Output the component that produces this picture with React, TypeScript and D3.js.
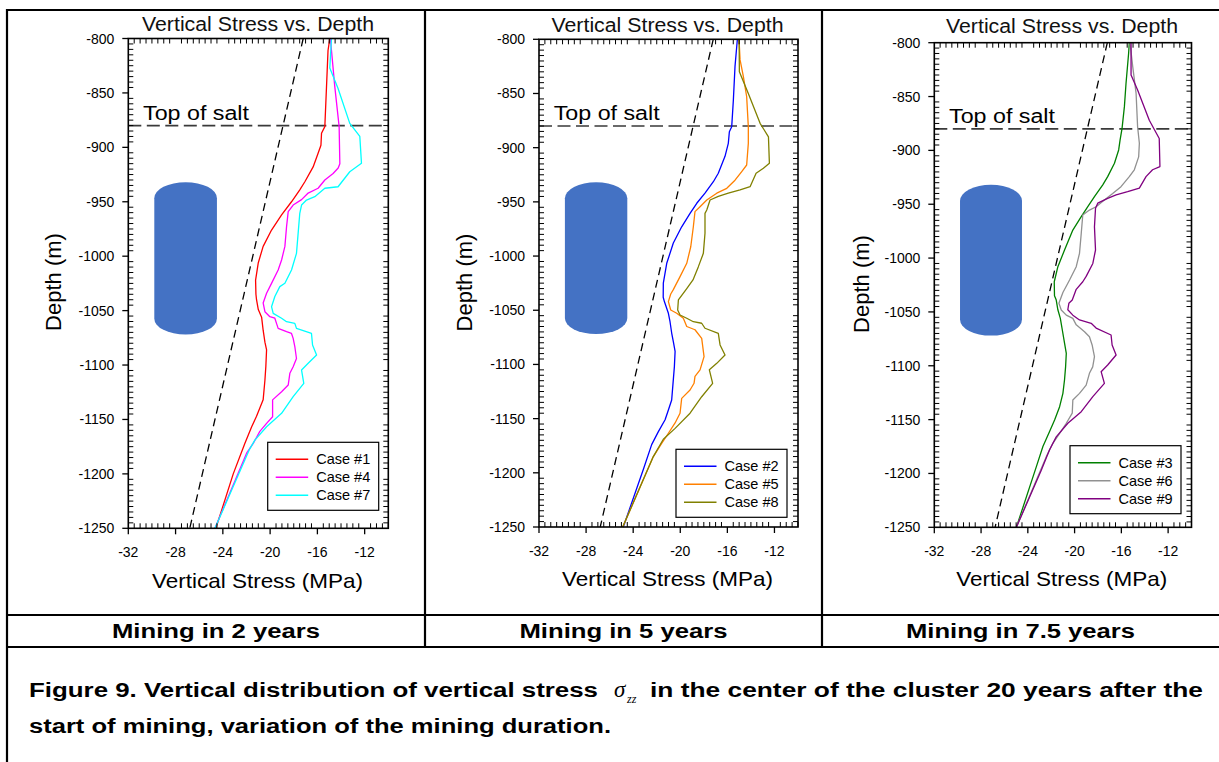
import React from "react";
import * as d3 from "d3";

type Pt = [number, number]; // [stress (MPa), depth (m)]

// ---- axes ----
const stressDomain: [number, number] = [-32, -10];
const depthDomain: [number, number] = [-800, -1250];
const stressTicks = [-32, -28, -24, -20, -16, -12];
const depthTicks = [-800, -850, -900, -950, -1000, -1050, -1100, -1150, -1200, -1250];
const saltTopDepth = -880;

// lithostatic reference (dashed black)
const lithoLine: Pt[] = [[-17.2, -800], [-26.8, -1250]];

// cavern sketch extents
const cavernStress: [number, number] = [-29.8, -24.5];
const cavernDepth: [number, number] = [-932, -1072];

const panelNames = ["Mining in 2 years", "Mining in 5 years", "Mining in 7.5 years"];
const legendNames = [
  ["Case #1", "Case #4", "Case #7"],
  ["Case #2", "Case #5", "Case #8"],
  ["Case #3", "Case #6", "Case #9"],
];
const seriesColors = [
  ["#FF0000", "#FF00FF", "#00FFFF"],
  ["#0000FF", "#FF8000", "#808000"],
  ["#008000", "#919191", "#800080"],
];

// ---- series ----
const case1: Pt[] = [[-14.95,-800],[-15.1,-811],[-15.37,-881],[-15.65,-887],[-15.7,-898],[-15.94,-905.5],[-16.36,-918],[-17.06,-931.6],[-17.49,-939],[-18.19,-950],[-19.03,-962],[-19.88,-976],[-20.59,-991],[-21.0,-1006],[-21.23,-1022],[-21.2,-1035],[-21.15,-1040],[-21.0,-1049],[-20.72,-1056],[-20.59,-1068],[-20.44,-1079],[-20.3,-1086],[-20.36,-1101],[-20.44,-1114],[-20.59,-1132],[-21.15,-1147],[-21.57,-1157],[-22.14,-1172],[-23.12,-1200],[-24.59,-1250]];
const case4: Pt[] = [[-14.9,-800],[-14.53,-844],[-14.16,-881],[-14.1,-915],[-14.24,-919],[-14.67,-924],[-15.37,-930],[-15.94,-937.6],[-16.78,-942],[-17.34,-948],[-18.05,-953],[-18.47,-959],[-18.61,-973],[-18.75,-991],[-19.03,-1003.5],[-19.32,-1012.7],[-19.88,-1025],[-20.3,-1034],[-20.59,-1043],[-20.44,-1051],[-20.02,-1055.6],[-19.6,-1057],[-19.46,-1061.7],[-19.32,-1066.3],[-18.61,-1069.4],[-18.19,-1071],[-18.05,-1075.5],[-17.91,-1083],[-17.77,-1094],[-18.05,-1101.5],[-18.33,-1107.6],[-18.47,-1118.4],[-19.03,-1124.5],[-19.79,-1132],[-19.79,-1147.5],[-20.3,-1153.6],[-20.87,-1161],[-21.43,-1172],[-21.99,-1181],[-24.67,-1250]];
const case7: Pt[] = [[-14.81,-800],[-14.95,-827],[-14.25,-846],[-13.26,-878],[-12.41,-890],[-12.27,-914.7],[-13.26,-922.4],[-14.25,-936.2],[-15.37,-937.6],[-16.22,-945.3],[-16.92,-948.4],[-17.34,-953],[-17.49,-960.6],[-17.63,-979],[-17.77,-997.4],[-18.19,-1012.7],[-18.75,-1024.9],[-19.18,-1028],[-19.6,-1037],[-19.88,-1046.4],[-19.74,-1052.5],[-19.03,-1057],[-18.61,-1060.2],[-17.91,-1061.7],[-17.77,-1066.3],[-16.5,-1071],[-16.41,-1081.6],[-16.07,-1090.8],[-16.78,-1098.4],[-17.34,-1104.6],[-17.15,-1116.8],[-18.05,-1129],[-19.03,-1144.4],[-20.3,-1156.7],[-21.29,-1169],[-21.77,-1178],[-24.67,-1250]];

const case2: Pt[] = [[-15.15,-800],[-15.35,-825],[-15.49,-856],[-15.63,-880.6],[-15.83,-885.3],[-15.92,-896],[-16.2,-908],[-16.77,-923.6],[-17.19,-931.4],[-17.9,-942],[-18.6,-951.3],[-19.17,-960.6],[-19.88,-973],[-20.59,-988],[-21.15,-1006.7],[-21.44,-1025],[-21.45,-1038],[-21.35,-1042],[-21.01,-1052.8],[-20.87,-1060.6],[-20.73,-1071],[-20.59,-1079],[-20.44,-1088],[-20.5,-1102],[-20.59,-1114],[-20.73,-1132.8],[-21.01,-1142],[-21.29,-1151],[-21.86,-1162],[-22.43,-1174],[-23.14,-1197],[-24.84,-1250]];
const case5: Pt[] = [[-15.01,-800],[-14.92,-819],[-14.64,-834.5],[-14.36,-853],[-14.22,-880.6],[-14.22,-896],[-14.36,-916],[-14.78,-922],[-15.35,-930],[-16.05,-937.5],[-16.9,-942],[-17.75,-948.3],[-18.32,-954.5],[-18.75,-959],[-18.89,-973],[-19.11,-991.4],[-19.45,-1006.7],[-20.02,-1019],[-20.59,-1031],[-20.81,-1035],[-21.01,-1042],[-20.81,-1049.8],[-20.3,-1052.8],[-19.74,-1057.4],[-19.45,-1065],[-18.75,-1068],[-18.18,-1076],[-18.09,-1083.6],[-17.98,-1092.8],[-18.32,-1105],[-18.75,-1111],[-18.83,-1117.4],[-19.17,-1123.6],[-19.88,-1131.3],[-20.02,-1145],[-20.44,-1154],[-21.01,-1163.5],[-21.58,-1172.8],[-22.29,-1185],[-24.89,-1250]];
const case8: Pt[] = [[-15.0,-800],[-14.98,-830],[-14.22,-850],[-13.22,-877.5],[-12.51,-890],[-12.43,-914.4],[-12.94,-919],[-13.56,-923.6],[-14.07,-936],[-14.92,-939],[-15.92,-942],[-16.77,-945],[-17.47,-948.3],[-17.75,-957.5],[-17.9,-960.6],[-17.9,-979],[-18.04,-997.5],[-18.47,-1010],[-18.92,-1022],[-19.45,-1030],[-20.16,-1040.5],[-20.22,-1049.8],[-20.02,-1054.4],[-19.45,-1057.4],[-18.89,-1060.6],[-18.18,-1062],[-17.9,-1066.6],[-16.77,-1071.3],[-16.62,-1082],[-16.2,-1091.3],[-16.9,-1099],[-17.53,-1105],[-17.25,-1117.4],[-18.18,-1129.8],[-19.17,-1145],[-20.44,-1159],[-21.44,-1169],[-22.29,-1185],[-24.89,-1250]];

const case3: Pt[] = [[-15.32,-800],[-15.38,-810],[-15.6,-837.7],[-15.74,-859.4],[-15.94,-879.5],[-16.11,-890.4],[-16.23,-899.6],[-16.59,-912],[-17.17,-924.4],[-17.59,-932],[-18.3,-943],[-18.87,-952.3],[-19.43,-961.6],[-20.15,-974],[-20.86,-992.5],[-21.43,-1008],[-21.74,-1022],[-21.72,-1035],[-21.57,-1039],[-21.43,-1048],[-21.22,-1056],[-21.05,-1066.8],[-20.86,-1079],[-20.71,-1088.4],[-20.77,-1101],[-20.86,-1113],[-21.0,-1125.6],[-21.28,-1138],[-21.71,-1150.4],[-22.14,-1161],[-22.71,-1175],[-23.27,-1193.7],[-24.98,-1250]];
const case6: Pt[] = [[-15.26,-800],[-15.03,-822],[-14.74,-847],[-14.61,-878],[-14.46,-893.4],[-14.52,-906],[-14.89,-918],[-15.32,-924.4],[-16.03,-933.7],[-16.74,-940],[-17.45,-946],[-18.16,-952.3],[-18.73,-955.4],[-19.3,-960],[-19.43,-977],[-19.58,-995.6],[-19.86,-1008],[-20.43,-1020.4],[-21.0,-1032],[-21.34,-1042],[-21.14,-1048.2],[-20.71,-1053],[-20.15,-1056],[-19.86,-1062],[-19.15,-1068.4],[-18.73,-1073],[-18.5,-1080.7],[-18.3,-1091.6],[-18.45,-1101],[-18.73,-1107],[-19.01,-1118],[-19.58,-1125.6],[-20.15,-1131.8],[-20.2,-1144],[-20.71,-1153.4],[-21.28,-1162.7],[-21.86,-1172],[-22.42,-1184.4],[-24.98,-1250]];
const case9: Pt[] = [[-15.17,-800],[-15.17,-830],[-14.61,-844],[-13.61,-872],[-12.76,-889],[-12.7,-915],[-13.33,-918],[-13.89,-924.4],[-14.46,-935],[-15.46,-938.4],[-16.45,-941.4],[-17.17,-944.5],[-18.02,-949],[-18.21,-953.8],[-18.3,-971],[-18.21,-992.5],[-18.44,-1005],[-19.01,-1017],[-19.3,-1022],[-19.86,-1029],[-20.2,-1039],[-20.49,-1042],[-20.58,-1048],[-20.15,-1053],[-19.58,-1057.5],[-18.58,-1060.6],[-18.16,-1065],[-16.88,-1071.4],[-16.79,-1080.7],[-16.45,-1090],[-17.17,-1099.3],[-17.73,-1105.5],[-17.45,-1116.3],[-18.44,-1128.7],[-19.43,-1142.6],[-20.58,-1153.4],[-21.57,-1166],[-22.14,-1178],[-22.85,-1197],[-24.98,-1250]];

const panelSeries: Pt[][][] = [
  [case1, case4, case7],
  [case2, case5, case8],
  [case3, case6, case9],
];

// ---- layout of the three plot frames ----
interface Layout {
  left: number; right: number; top: number; bottom: number;
  titleX: number; titleY: number;
  xLabelX: number; xLabelY: number;
  yLabelX: number; yLabelY: number;
  legendX: number; legendY: number;
}
const layouts: Layout[] = [
  { left: 128.3, right: 388.3, top: 38.5, bottom: 528.3, titleX: 258, titleY: 31, xLabelX: 257.5, xLabelY: 588, yLabelX: 61, yLabelY: 282, legendX: 267.7, legendY: 442.3 },
  { left: 539, right: 798, top: 39.3, bottom: 527, titleX: 667.5, titleY: 31.7, xLabelX: 667.5, xLabelY: 586, yLabelX: 472.4, yLabelY: 282.5, legendX: 676, legendY: 449.3 },
  { left: 934.3, right: 1191.5, top: 42.7, bottom: 527.3, titleX: 1062, titleY: 33.3, xLabelX: 1061.7, xLabelY: 586, yLabelX: 869, yLabelY: 284, legendX: 1070, legendY: 445.7 },
];

const FONT = "'Liberation Sans', Arial, Helvetica, sans-serif";

function Panel({ idx }: { idx: number }) {
  const L = layouts[idx];
  const x = d3.scaleLinear().domain(stressDomain).range([L.left, L.right]);
  const y = d3.scaleLinear().domain(depthDomain).range([L.top, L.bottom]);
  const line = d3.line<Pt>().x((d) => x(d[0])).y((d) => y(d[1]));

  const minorX = d3.range(-32, -10 + 0.001, 0.5).filter((v) => Math.abs(v % 4) > 0.01 || v === -10);
  const minorY = d3.range(-800, -1250 - 0.001, -5).filter((v) => v % 50 !== 0);
  const tickLen = 5;

  // cavern outline: straight walls with elliptical caps
  const cx0 = x(cavernStress[0]);
  const cx1 = x(cavernStress[1]);
  const cTop = y(cavernDepth[0]);
  const cBot = y(cavernDepth[1]);
  const rx = (cx1 - cx0) / 2;
  const ry = 16;
  const cavernPath = `M${cx0},${cTop + ry} A${rx},${ry} 0 0 1 ${cx1},${cTop + ry} L${cx1},${cBot - ry} A${rx},${ry} 0 0 1 ${cx0},${cBot - ry} Z`;

  const ySalt = y(saltTopDepth);

  return (
    <g>
      <text x={L.titleX} y={L.titleY} textAnchor="middle" fontSize={20} fontFamily={FONT} textLength={232} lengthAdjust="spacingAndGlyphs" fill="#111">
        Vertical Stress vs. Depth
      </text>

      <path d={cavernPath} fill="#4472C4" />

      {/* lithostatic reference */}
      <path d={line(lithoLine) || ""} fill="none" stroke="#000" strokeWidth={1.3} strokeDasharray="8,5" />

      {/* top of salt */}
      <line x1={L.left} x2={L.right} y1={ySalt} y2={ySalt} stroke="#3a3a3a" strokeWidth={1.6} strokeDasharray="13,5.5" />
      <text x={L.left + 14.7} y={ySalt - 6} fontSize={20} fontFamily={FONT} textLength={106} lengthAdjust="spacingAndGlyphs" fill="#000">
        Top of salt
      </text>

      {panelSeries[idx].map((s, i) => (
        <path key={i} d={line(s) || ""} fill="none" stroke={seriesColors[idx][i]} strokeWidth={1.3} strokeLinejoin="round" />
      ))}

      {/* frame */}
      <rect x={L.left} y={L.top} width={L.right - L.left} height={L.bottom - L.top} fill="none" stroke="#000" strokeWidth={1.6} />

      {/* minor ticks, inward on all sides */}
      {minorX.map((v) => (
        <g key={`mx${v}`}>
          <line x1={x(v)} x2={x(v)} y1={L.bottom} y2={L.bottom - tickLen} stroke="#000" strokeWidth={1} />
          <line x1={x(v)} x2={x(v)} y1={L.top} y2={L.top + tickLen} stroke="#000" strokeWidth={1} />
        </g>
      ))}
      {minorY.map((v) => (
        <g key={`my${v}`}>
          <line x1={L.left} x2={L.left + tickLen} y1={y(v)} y2={y(v)} stroke="#000" strokeWidth={1} />
          <line x1={L.right} x2={L.right - tickLen} y1={y(v)} y2={y(v)} stroke="#000" strokeWidth={1} />
        </g>
      ))}

      {/* major ticks and labels */}
      {stressTicks.map((v) => (
        <g key={`tx${v}`}>
          <line x1={x(v)} x2={x(v)} y1={L.bottom} y2={L.bottom + 6} stroke="#000" strokeWidth={1.3} />
          <text x={x(v)} y={L.bottom + 29} textAnchor="middle" fontSize={14} fontFamily={FONT} fill="#000">
            {v}
          </text>
        </g>
      ))}
      {depthTicks.map((v) => (
        <g key={`ty${v}`}>
          <line x1={L.left - 6} x2={L.left} y1={y(v)} y2={y(v)} stroke="#000" strokeWidth={1.3} />
          <text x={L.left - 14} y={y(v) + 5} textAnchor="end" fontSize={14} fontFamily={FONT} fill="#000">
            {v}
          </text>
        </g>
      ))}

      <text x={L.xLabelX} y={L.xLabelY} textAnchor="middle" fontSize={21} fontFamily={FONT} textLength={211} lengthAdjust="spacingAndGlyphs" fill="#000">
        Vertical Stress (MPa)
      </text>
      <text transform={`translate(${L.yLabelX},${L.yLabelY}) rotate(-90)`} textAnchor="middle" fontSize={22} fontFamily={FONT} fill="#000">
        Depth (m)
      </text>

      {/* legend */}
      <g transform={`translate(${L.legendX},${L.legendY})`}>
        <rect x={0} y={0} width={111} height={68} fill="#fff" stroke="#000" strokeWidth={1.2} />
        {legendNames[idx].map((name, i) => (
          <g key={name} transform={`translate(0,${17 + i * 18})`}>
            <line x1={8} x2={40.5} y1={0} y2={0} stroke={seriesColors[idx][i]} strokeWidth={1.5} />
            <text x={48.5} y={5} fontSize={14.5} fontFamily={FONT} fill="#000">
              {name}
            </text>
          </g>
        ))}
      </g>
    </g>
  );
}

export default function App() {
  const colCenters = [216, 623.5, 1020.5];
  const colWidths = [208, 208, 229];
  return (
    <svg width={1219} height={762} style={{ position: "absolute", left: 0, top: 0, background: "#fff" }}>
      <rect x={0} y={0} width={1219} height={762} fill="#fff" />

      {/* table rules */}
      <g stroke="#000" strokeWidth={2.2}>
        <line x1={6} x2={1219} y1={10} y2={10} />
        <line x1={7} x2={7} y1={9} y2={762} />
        <line x1={425} x2={425} y1={10} y2={647} />
        <line x1={822} x2={822} y1={10} y2={647} />
        <line x1={6} x2={1219} y1={615} y2={615} />
        <line x1={6} x2={1219} y1={647} y2={647} />
      </g>

      {[0, 1, 2].map((i) => (
        <Panel key={i} idx={i} />
      ))}

      {panelNames.map((t, i) => (
        <text key={t} x={colCenters[i]} y={638} textAnchor="middle" fontSize={20} fontWeight="bold" fontFamily={FONT} textLength={colWidths[i]} lengthAdjust="spacingAndGlyphs" fill="#000">
          {t}
        </text>
      ))}

      {/* figure caption */}
      <g fontFamily={FONT} fontWeight="bold" fontSize={20} fill="#000">
        <text x={29} y={697} textLength={569} lengthAdjust="spacingAndGlyphs">
          Figure 9. Vertical distribution of vertical stress
        </text>
        <text x={614} y={697} fontFamily="'Liberation Serif', 'Times New Roman', serif" fontStyle="italic" fontWeight="normal" fontSize={23}>
          σ
        </text>
        <text x={627} y={703} fontFamily="'Liberation Serif', 'Times New Roman', serif" fontStyle="italic" fontWeight="normal" fontSize={12}>
          zz
        </text>
        <text x={650} y={697} textLength={553} lengthAdjust="spacingAndGlyphs">
          in the center of the cluster 20 years after the
        </text>
        <text x={29} y={733} textLength={582} lengthAdjust="spacingAndGlyphs">
          start of mining, variation of the mining duration.
        </text>
      </g>
    </svg>
  );
}
